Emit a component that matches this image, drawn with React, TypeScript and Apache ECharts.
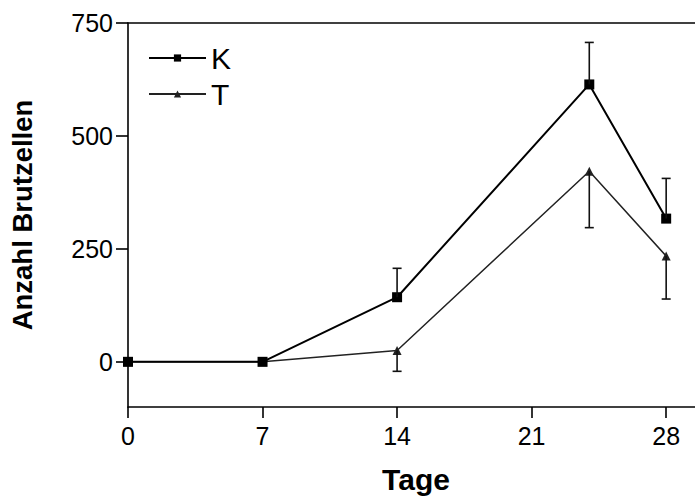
import React, { useEffect, useRef } from "react";
import * as echarts from "echarts";

const days = [0, 7, 14, 24, 28];
const kValues = [0, 0, 143, 614, 317];
const kErrUp = [0, 0, 64, 93, 89];
const tValues = [0, 0, 25, 422, 234];
const tErrDown = [0, 0, 46, 125, 95];
const xTicks = [0, 7, 14, 21, 28];
const yTicks = [0, 250, 500, 750];

const FONT = "'Liberation Sans', Arial, sans-serif";

export default function App() {
  const ref = useRef<HTMLDivElement>(null);
  useEffect(() => {
    if (!ref.current) return;
    const chart = echarts.init(ref.current, undefined, { renderer: "svg" });

    const errRender = (dir: number) => (params: any, api: any) => {
      const x = api.value(0);
      const y = api.value(1);
      const e = api.value(2);
      if (!e) return null;
      const p0 = api.coord([x, y]);
      const p1 = api.coord([x, y + dir * e]);
      const hw = 4.5;
      return {
        type: "group",
        children: [
          { type: "line", shape: { x1: p0[0], y1: p0[1], x2: p1[0], y2: p1[1] }, style: { stroke: "#111", lineWidth: 1.6 } },
          { type: "line", shape: { x1: p1[0] - hw, y1: p1[1], x2: p1[0] + hw, y2: p1[1] }, style: { stroke: "#111", lineWidth: 1.6 } },
        ],
      };
    };

    chart.setOption({
      animation: false,
      textStyle: { fontFamily: FONT },
      grid: { left: 128, right: 0, top: 23, bottom: 94 },
      legend: {
        left: 143,
        top: 38,
        orient: "vertical",
        itemWidth: 57,
        itemHeight: 9,
        itemGap: 6,
        textStyle: { fontSize: 30, color: "#000", fontFamily: FONT },
        data: ["K", "T"],
      },
      xAxis: [
        {
          type: "value",
          min: 0,
          max: 29.5,
          interval: 7,
          name: "Tage",
          nameLocation: "middle",
          nameGap: 57,
          nameTextStyle: { fontSize: 30, fontWeight: "bold", color: "#000", fontFamily: FONT, padding: [0, 0, 0, 9] },
          axisLine: { onZero: false, lineStyle: { color: "#000", width: 1.6 } },
          axisTick: { show: true, length: 11, customValues: xTicks, lineStyle: { color: "#000", width: 1.6 } },
          axisLabel: { customValues: xTicks, fontSize: 25, color: "#000", margin: 16, fontFamily: FONT },
          splitLine: { show: false },
        },
        {
          type: "value",
          position: "top",
          min: 0,
          max: 29.5,
          axisLine: { show: true, onZero: false, lineStyle: { color: "#000", width: 1.6 } },
          axisTick: { show: false },
          axisLabel: { show: false },
          splitLine: { show: false },
        },
      ],
      yAxis: {
        type: "value",
        min: -100,
        max: 750,
        name: "Anzahl Brutzellen",
        nameLocation: "middle",
        nameGap: 92,
        nameTextStyle: { fontSize: 27.5, fontWeight: "bold", color: "#000", fontFamily: FONT },
        axisLine: { show: true, lineStyle: { color: "#000", width: 1.6 } },
        axisTick: { show: true, length: 12, customValues: yTicks, lineStyle: { color: "#000", width: 1.6 } },
        axisLabel: { customValues: yTicks, fontSize: 25, color: "#000", margin: 15, fontFamily: FONT },
        splitLine: { show: false },
      },
      series: [
        {
          name: "T",
          type: "line",
          data: days.map((d, i) => [d, tValues[i]]),
          symbol: "triangle",
          symbolSize: 9,
          itemStyle: { color: "#222" },
          lineStyle: { color: "#222", width: 1.5 },
          z: 2,
        },
        {
          name: "K",
          type: "line",
          data: days.map((d, i) => [d, kValues[i]]),
          symbol: "rect",
          symbolSize: 10,
          itemStyle: { color: "#000" },
          lineStyle: { color: "#000", width: 2 },
          z: 3,
        },
        {
          type: "custom",
          renderItem: errRender(1),
          data: days.map((d, i) => [d, kValues[i], kErrUp[i]]),
          z: 4,
        },
        {
          type: "custom",
          renderItem: errRender(-1),
          data: days.map((d, i) => [d, tValues[i], tErrDown[i]]),
          z: 4,
        },
      ],
    });
    return () => chart.dispose();
  }, []);
  return <div ref={ref} style={{ width: 695, height: 501, position: "absolute", left: 0, top: 0 }} />;
}
